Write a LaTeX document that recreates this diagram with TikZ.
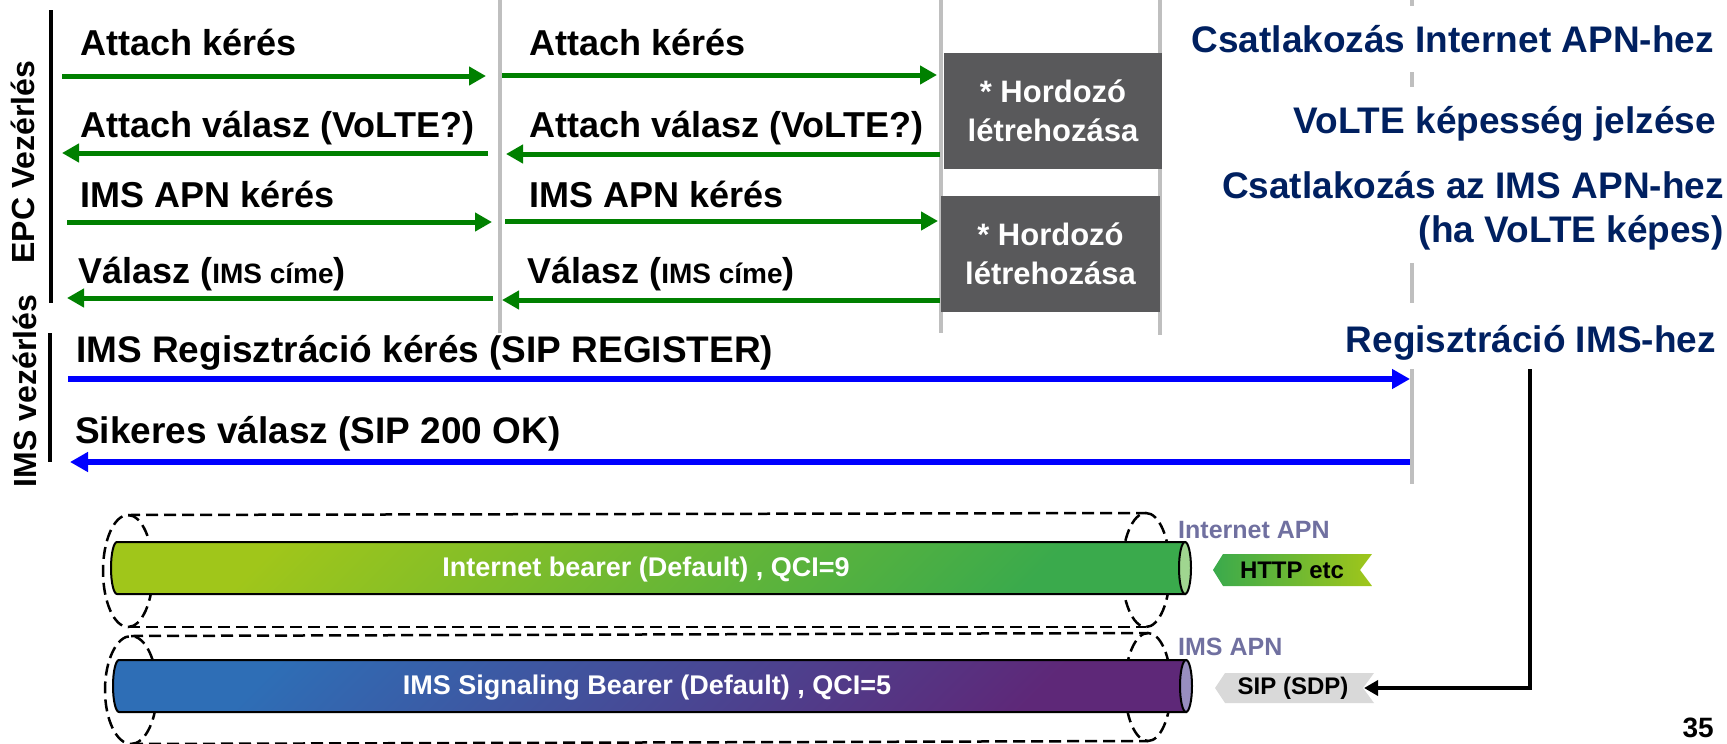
\documentclass[tikz,border=0pt]{standalone}
\usepackage{fontspec}
\setmainfont{Liberation Sans}
\usetikzlibrary{arrows.meta}
\definecolor{grn}{RGB}{0,128,0}
\definecolor{blu}{RGB}{0,0,255}
\definecolor{navy}{RGB}{0,32,96}
\definecolor{lgray}{RGB}{191,191,191}
\definecolor{dgray}{RGB}{89,89,91}
\definecolor{apn}{RGB}{112,112,160}
\definecolor{gA}{RGB}{160,198,26}
\definecolor{gB}{RGB}{58,170,76}
\definecolor{gEnd}{RGB}{160,214,144}
\definecolor{pA}{RGB}{46,110,182}
\definecolor{pB}{RGB}{94,40,120}
\definecolor{pEnd}{RGB}{152,142,192}
\definecolor{tagA}{RGB}{58,170,76}
\definecolor{tagB}{RGB}{160,198,26}
\definecolor{tagG}{RGB}{217,217,217}
\begin{document}
\begin{tikzpicture}[x=1pt,y=-1pt,
  lbl/.style={anchor=base west,inner sep=0pt,font=\bfseries\fontsize{36}{43}\selectfont},
  blbl/.style={anchor=base west,inner sep=0pt,font=\bfseries\fontsize{37}{44}\selectfont},
  rtxt/.style={anchor=base east,inner sep=0pt,text=navy,font=\bfseries\fontsize{37}{44}\selectfont},
  side/.style={rotate=90,inner sep=0pt,font=\bfseries\fontsize{32}{38}\selectfont},
  lifeline/.style={draw=lgray,line width=3.5pt},
  bracket/.style={draw=black,line width=4pt},
  garrow/.style={draw=grn,line width=5pt,-{Triangle[length=17pt,width=18pt]}},
  barrow/.style={draw=blu,line width=6pt,-{Triangle[length=18pt,width=19pt]}},
  hbox/.style={fill=dgray,text=white,align=center,inner sep=0pt,minimum width=218pt,minimum height=116pt,font=\bfseries\fontsize{31}{39}\selectfont},
  dashcyl/.style={draw=black,line width=2.5pt,dash pattern=on 12pt off 6pt},
  bearer/.style={text=white,inner sep=0pt,font=\bfseries\fontsize{27}{32}\selectfont},
  apnlbl/.style={anchor=base west,inner sep=0pt,text=apn,font=\bfseries\fontsize{25}{30}\selectfont},
  taglbl/.style={inner sep=0pt,font=\bfseries\fontsize{24}{29}\selectfont}]
\useasboundingbox (0,0) rectangle (1727,744);

% lifelines
\draw[lifeline] (500,0) -- (500,333);
\draw[lifeline] (941,0) -- (941,333);
\draw[lifeline] (1160,0) -- (1160,335);
\draw[lifeline,line width=4pt] (1412,0) -- (1412,6);
\draw[lifeline,line width=4pt] (1412,72) -- (1412,87);
\draw[lifeline,line width=4pt] (1412,263) -- (1412,303);
\draw[lifeline,line width=4pt] (1412,369) -- (1412,484);

% brackets and side labels
\draw[bracket] (51,10) -- (51,303);
\draw[bracket] (50,333) -- (50,462);
\node[side] (epc) at (23,162) {EPC Vezérlés};
\node[side] (imsv) at (25,391) {IMS vezérlés};

% bearer boxes
\node[hbox] (h1) at (1053,111) {* Hordozó\\létrehozása};
\node[hbox,minimum width=219pt] (h2) at (1050.5,254) {* Hordozó\\létrehozása};

% green arrow end points
\coordinate (a1s) at (62,76);   \coordinate (a1e) at (486,76);
\coordinate (a2s) at (488,153); \coordinate (a2e) at (62,153);
\coordinate (a3s) at (67,222);  \coordinate (a3e) at (492,222);
\coordinate (a4s) at (493,298); \coordinate (a4e) at (67,298);
\coordinate (b1s) at (502,75);  \coordinate (b1e) at (937,75);
\coordinate (b2s) at (940,154); \coordinate (b2e) at (506,154);
\coordinate (b3s) at (505,221); \coordinate (b3e) at (938,221);
\coordinate (b4s) at (940,300); \coordinate (b4e) at (502,300);
\draw[garrow] (a1s) -- (a1e);
\draw[garrow] (a2s) -- (a2e);
\draw[garrow] (a3s) -- (a3e);
\draw[garrow] (a4s) -- (a4e);
\draw[garrow] (b1s) -- (b1e);
\draw[garrow] (b2s) -- (b2e);
\draw[garrow] (b3s) -- (b3e);
\draw[garrow] (b4s) -- (b4e);

% green labels
\node[lbl] (t1) at (80,55) {Attach kérés};
\node[lbl] (t2) at (80,137) {Attach válasz (VoLTE?)};
\node[lbl] (t3) at (80,207) {IMS APN kérés};
\node[lbl] (t4) at (78,283) {Válasz ({\fontsize{28}{34}\selectfont IMS címe})};
\node[lbl] (u1) at (529,55) {Attach kérés};
\node[lbl] (u2) at (529,137) {Attach válasz (VoLTE?)};
\node[lbl] (u3) at (529,207) {IMS APN kérés};
\node[lbl] (u4) at (527,283) {Válasz ({\fontsize{28}{34}\selectfont IMS címe})};

% blue arrows
\coordinate (c1s) at (68,379);   \coordinate (c1e) at (1410,379);
\coordinate (c2s) at (1410,462); \coordinate (c2e) at (70,462);
\draw[barrow] (c1s) -- (c1e);
\draw[barrow] (c2s) -- (c2e);
\node[blbl] (s1) at (76,362) {IMS Regisztráció kérés (SIP REGISTER)};
\node[blbl] (s2) at (75,443) {Sikeres válasz (SIP 200 OK)};

% right texts
\node[rtxt] (r1) at (1714,52) {Csatlakozás Internet APN-hez};
\node[rtxt] (r2) at (1716,133) {VoLTE képesség jelzése};
\node[rtxt] (r3) at (1724,198) {Csatlakozás az IMS APN-hez};
\node[rtxt] (r4) at (1724,242) {(ha VoLTE képes)};
\node[rtxt] (r5) at (1716,352) {Regisztráció IMS-hez};

% dashed outer cylinders
\draw[dashcyl] (128,571) ellipse[x radius=25,y radius=56];
\draw[dashcyl] (1146,570) ellipse[x radius=24,y radius=57];
\draw[dashcyl] (128,515) -- (1146,513);
\draw[dashcyl] (128,627) -- (1146,627);
\draw[dashcyl] (131,690) ellipse[x radius=26,y radius=54];
\draw[dashcyl] (1148,687) ellipse[x radius=23,y radius=54];
\draw[dashcyl] (131,636) -- (1148,633);
\draw[dashcyl] (131,744) -- (1148,741);

% solid bearer cylinders
\shadedraw[top color=gA,bottom color=gB,shading angle=45,line width=2pt]
  (1185,542) -- (117,542) arc[start angle=270,end angle=90,x radius=6,y radius=26] -- (1185,594) -- cycle;
\filldraw[fill=gEnd,line width=2pt] (1185,568) ellipse[x radius=6,y radius=26];
\node[bearer] (ib) at (646,570) {Internet bearer (Default) , QCI=9};

\shadedraw[top color=pA,bottom color=pB,shading angle=45,line width=2pt]
  (1186,660) -- (119,660) arc[start angle=270,end angle=90,x radius=6,y radius=26] -- (1186,712) -- cycle;
\filldraw[fill=pEnd,line width=2pt] (1186,686) ellipse[x radius=6,y radius=26];
\node[bearer] (sb) at (647,688) {IMS Signaling Bearer (Default) , QCI=5};

% APN labels
\node[apnlbl] (iapn) at (1178,538) {Internet APN};
\node[apnlbl] (mapn) at (1178,655) {IMS APN};

% tags
\shade[left color=tagA,right color=tagB]
  (1213,570) -- (1223,554) -- (1372,554) -- (1360,570) -- (1372,586) -- (1223,586) -- cycle;
\node[taglbl] (http) at (1292,570) {HTTP etc};
\fill[tagG]
  (1215,688) -- (1225,673) -- (1374,673) -- (1363,688) -- (1374,703) -- (1225,703) -- cycle;
\node[taglbl] (sip) at (1293,688) {SIP (SDP)};

% black connector from registration to SIP tag
\coordinate (r5down) at (1530,369);
\coordinate (sipnotch) at (1364,688);
\draw[line width=4pt,-{Triangle[length=14pt,width=15pt]}] (r5down) |- (sipnotch);

% page number
\node[anchor=base east,inner sep=0pt,font=\bfseries\fontsize{28}{34}\selectfont] (pg) at (1714,737) {35};
\end{tikzpicture}
\end{document}
